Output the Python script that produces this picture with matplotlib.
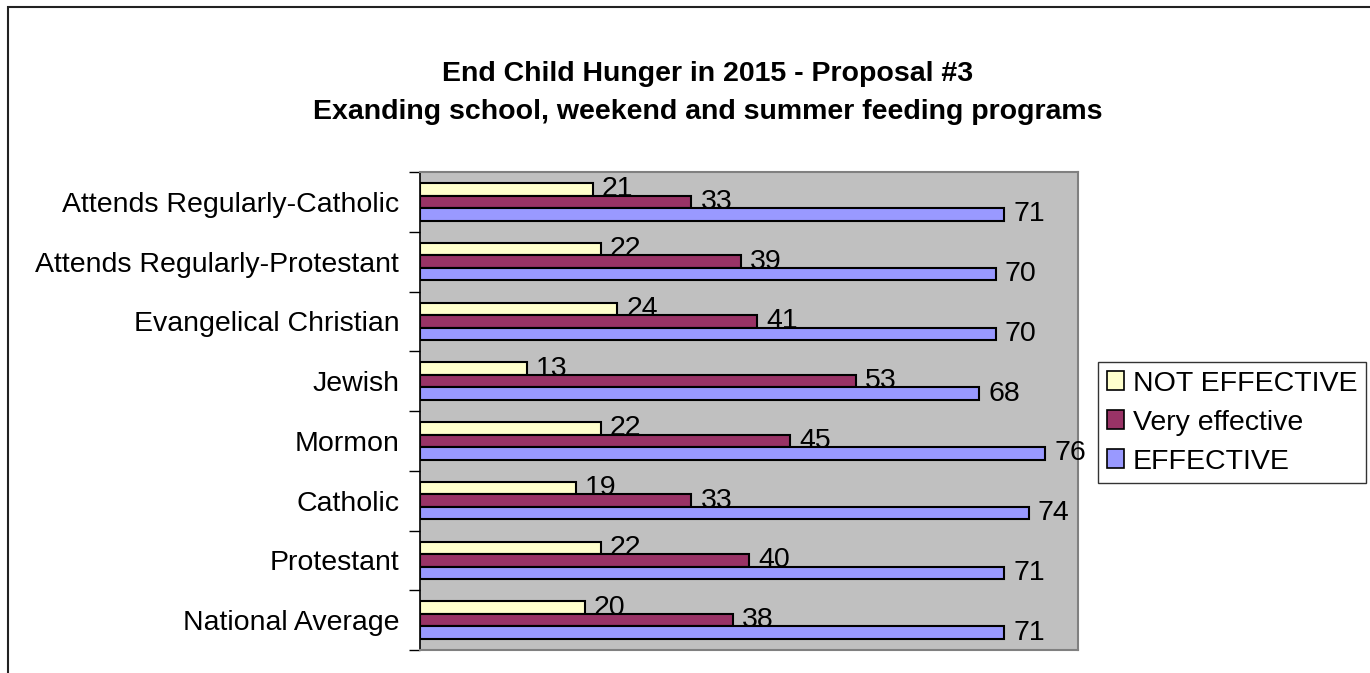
import numpy as np
import matplotlib
matplotlib.use('Agg')
import matplotlib.pyplot as plt
from matplotlib.patches import Rectangle, Patch
from matplotlib.ticker import FixedLocator

plt.rcParams['font.family'] = ['Liberation Sans', 'DejaVu Sans']

groups = ['National Average', 'Protestant', 'Catholic', 'Mormon', 'Jewish',
          'Evangelical Christian', 'Attends Regularly-Protestant',
          'Attends Regularly-Catholic']
not_effective = [20, 22, 19, 22, 13, 24, 22, 21]
very_effective = [38, 40, 33, 45, 53, 41, 39, 33]
effective = [71, 71, 74, 76, 68, 70, 70, 71]

series = [('NOT EFFECTIVE', not_effective, '#FFFFCC'),
          ('Very effective', very_effective, '#993366'),
          ('EFFECTIVE', effective, '#9999FF')]

fig = plt.figure(figsize=(13.7, 6.73), dpi=100)
ax = fig.add_axes([420 / 1370, 1 - 650 / 673, 658 / 1370, 478 / 673])
ax.set_facecolor('#C0C0C0')

# outer chart border
fig.patches.append(Rectangle((8 / 1370, -0.1), 1.2, 1 - 7 / 673 + 0.1,
                             transform=fig.transFigure, fill=False,
                             edgecolor='#222222', linewidth=1.5))

y = np.arange(len(groups))
h = 0.21
offsets = [h, 0, -h]
for (name, vals, col), off in zip(series, offsets):
    ax.barh(y + off, vals, height=h, color=col, edgecolor='black',
            linewidth=1.5, label=name)
    for yi, v in zip(y, vals):
        ax.text(v + 1.1, yi + off, str(v), va='center', ha='left',
                fontsize=20.5)

ax.set_xlim(0, 80)
ax.set_ylim(-0.5, len(groups) - 0.5)
ax.set_xticks([])
ax.set_yticks(y)
ax.set_yticklabels(groups, fontsize=20.5)
ax.tick_params(axis='y', which='major', length=0, pad=15)
ax.yaxis.set_minor_locator(FixedLocator(np.arange(-0.5, len(groups), 1)))
ax.tick_params(axis='y', which='minor', length=8, width=1, color='black')

ax.spines['left'].set_color('black')
ax.spines['left'].set_linewidth(1.2)
for s in ['top', 'right', 'bottom']:
    ax.spines[s].set_color('#808080')
    ax.spines[s].set_linewidth(1.5)

handles = [Patch(facecolor=c, edgecolor='black', linewidth=1.2) for _, _, c in series]
leg = fig.legend(handles, [n for n, _, _ in series], loc='upper left',
                 bbox_to_anchor=(1098 / 1370, 1 - 362 / 673), fontsize=20.5,
                 frameon=True, fancybox=False, edgecolor='black',
                 handlelength=0.62, handleheight=0.62, handletextpad=0.3,
                 borderpad=0.3, labelspacing=0.46, borderaxespad=0)
leg.get_frame().set_linewidth(1.0)

fig.text(708 / 1370, 1 - 74 / 673, 'End Child Hunger in 2015 - Proposal #3',
         ha='center', va='center', fontsize=20.5, fontweight='bold')
fig.text(708 / 1370, 1 - 112 / 673,
         'Exanding school, weekend and summer feeding programs',
         ha='center', va='center', fontsize=20.5, fontweight='bold')

fig.savefig('out.png', dpi=100)
